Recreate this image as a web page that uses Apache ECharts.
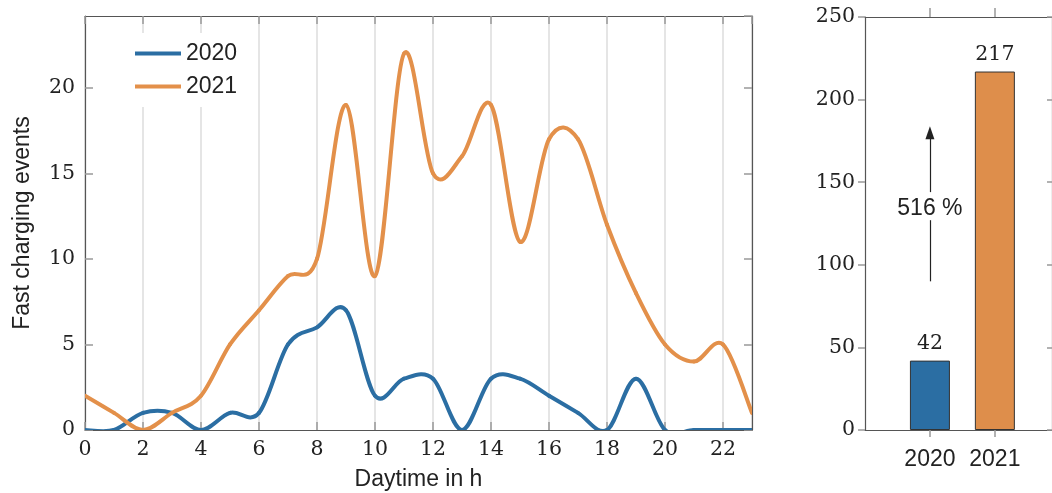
<!DOCTYPE html>
<html>
<head>
<meta charset="utf-8">
<script src="https://cdn.jsdelivr.net/npm/echarts@6/dist/echarts.min.js"></script>
<style>
  html, body { margin: 0; padding: 0; background: #fff; }
  #chart { width: 1052px; height: 493px; }
</style>
</head>
<body>
<div id="chart"></div>
<script>
// ========================================
// DATA
// ========================================
var hours = [0, 1, 2, 3, 4, 5, 6, 7, 8, 9, 10, 11, 12, 13, 14, 15, 16, 17, 18, 19, 20, 21, 22, 23];
var events2020 = [0, 0, 1, 1, 0, 1, 1, 5, 6, 7, 2, 3, 3, 0, 3, 3, 2, 1, 0, 3, 0, 0, 0, 0];
var events2021 = [2, 1, 0, 1, 2, 5, 7, 9, 10, 19, 9, 22, 15, 16, 19, 11, 17, 17, 12, 8, 5, 4, 5, 1];
var years = ['2020', '2021'];
var totals = [42, 217];
var growthText = '516 %';
var arrowFrom = 90, arrowGapLow = 127, arrowGapHigh = 144, arrowTo = 180, arrowTextAt = 134;

// ========================================
// STYLE
// ========================================
var BLUE = '#2b6ea3';
var ORANGE = '#e3904a';
var AXIS = '#555';
var TICK = '#999';
var SERIF = 'DejaVu Serif';
var SANS = 'Liberation Sans';

function pairs(xs, ys) {
  return xs.map(function (x, i) { return [x, ys[i]]; });
}

/**
 * Draw one smooth (Catmull-Rom) segment from point i to i+1.
 * Every point goes through api.coord, so the axes do the scaling.
 */
function splineSegment(ys, color) {
  return function (params, api) {
    var i = params.dataIndex;
    if (i >= ys.length - 1) return null;
    var p = function (k) {
      k = Math.max(0, Math.min(ys.length - 1, k));
      return api.coord([hours[k], ys[k]]);
    };
    var p0 = p(i - 1), p1 = p(i), p2 = p(i + 1), p3 = p(i + 2);
    return {
      type: 'bezierCurve',
      shape: {
        x1: p1[0], y1: p1[1],
        cpx1: p1[0] + (p2[0] - p0[0]) / 6, cpy1: p1[1] + (p2[1] - p0[1]) / 6,
        cpx2: p2[0] - (p3[0] - p1[0]) / 6, cpy2: p2[1] - (p3[1] - p1[1]) / 6,
        x2: p2[0], y2: p2[1]
      },
      style: { stroke: color, lineWidth: 4, fill: null, lineCap: 'round' }
    };
  };
}

var chart = echarts.init(document.getElementById('chart'), null, { renderer: 'canvas' });

var serifLabel = { fontFamily: SERIF, fontSize: 20.5, color: '#222' };
var axisLine = { show: true, onZero: false, lineStyle: { color: AXIS, width: 1.2 } };
var tickStyle = { color: TICK, width: 1.5 };

chart.setOption({
  animation: false,
  grid: [
    { left: 85, right: 300, top: 16, bottom: 63, outerBoundsMode: 'none', containLabel: false },
    { left: 865, right: 0, top: 17, bottom: 63, outerBoundsMode: 'none', containLabel: false }
  ],
  legend: {
    orient: 'vertical',
    left: 127, top: 33,
    padding: [9, 8],
    itemGap: 10,
    icon: 'rect',
    itemWidth: 46, itemHeight: 4,
    itemTextGap: 7,
    backgroundColor: '#fff',
    data: ['2020', '2021'],
    textStyle: { fontFamily: SANS, fontSize: 23, color: '#222', lineHeight: 23 }
  },
  xAxis: [
    {
      gridIndex: 0, type: 'value', min: 0, max: 23, interval: 2,
      name: 'Daytime in h', nameLocation: 'middle', nameGap: 38,
      nameTextStyle: { fontFamily: SANS, fontSize: 23, color: '#222' },
      axisLine: axisLine,
      axisTick: { inside: true, length: 8, lineStyle: tickStyle },
      axisLabel: Object.assign({ margin: 9, showMaxLabel: false }, serifLabel),
      splitLine: { show: true, lineStyle: { color: '#dcdcdc', width: 1.5 } }
    },
    {
      gridIndex: 0, type: 'value', position: 'top', min: 0, max: 23, interval: 2,
      axisLine: axisLine,
      axisTick: { inside: true, length: 8, lineStyle: tickStyle },
      axisLabel: { show: false },
      splitLine: { show: false }
    },
    {
      gridIndex: 1, type: 'value', min: -1, max: 1.88,
      axisLine: axisLine,
      axisTick: { customValues: [0, 1], length: 7, lineStyle: tickStyle },
      axisLabel: {
        customValues: [0, 1], margin: 18,
        fontFamily: SANS, fontSize: 23, color: '#222',
        formatter: function (v) { return years[Math.round(v)] || ''; }
      },
      splitLine: { show: false }
    },
    {
      gridIndex: 1, type: 'value', position: 'top', min: -1, max: 1.88,
      axisLine: axisLine,
      axisTick: { customValues: [0, 1], length: 9, lineStyle: tickStyle },
      axisLabel: { show: false },
      splitLine: { show: false }
    }
  ],
  yAxis: [
    {
      gridIndex: 0, type: 'value', min: 0, max: 24.2, interval: 5,
      name: 'Fast charging events', nameLocation: 'middle', nameGap: 51,
      nameTextStyle: { fontFamily: SANS, fontSize: 23, color: '#222' },
      axisLine: axisLine,
      axisTick: { show: true, inside: true, length: 8, lineStyle: tickStyle },
      axisLabel: Object.assign({ margin: 10, showMaxLabel: false }, serifLabel),
      splitLine: { show: false }
    },
    {
      gridIndex: 0, type: 'value', position: 'right', min: 0, max: 24.2, interval: 5,
      axisLine: axisLine,
      axisTick: { show: true, inside: true, length: 8, lineStyle: tickStyle },
      axisLabel: { show: false },
      splitLine: { show: false }
    },
    {
      gridIndex: 1, type: 'value', min: 0, max: 250, interval: 50,
      axisLine: axisLine,
      axisTick: { show: true, length: 7, lineStyle: tickStyle },
      axisLabel: Object.assign({ margin: 10 }, serifLabel),
      splitLine: { show: false }
    },
    {
      gridIndex: 1, type: 'value', position: 'right', min: 0, max: 250, interval: 50,
      axisLine: axisLine,
      axisTick: { show: true, inside: true, length: 5, lineStyle: tickStyle },
      axisLabel: { show: false },
      splitLine: { show: false }
    }
  ],
  series: [
    {
      name: '2020', type: 'custom', xAxisIndex: 0, yAxisIndex: 0,
      data: pairs(hours, events2020),
      renderItem: splineSegment(events2020, BLUE),
      clip: true,
      itemStyle: { color: BLUE }
    },
    {
      name: '2021', type: 'custom', xAxisIndex: 0, yAxisIndex: 0,
      data: pairs(hours, events2021),
      renderItem: splineSegment(events2021, ORANGE),
      clip: true,
      itemStyle: { color: ORANGE }
    },
    {
      type: 'bar', xAxisIndex: 2, yAxisIndex: 2,
      barWidth: 40,
      data: totals.map(function (v, i) {
        return { value: [i, v], itemStyle: { color: i === 0 ? BLUE : '#de8e4b' } };
      }),
      itemStyle: { borderColor: '#333', borderWidth: 1 },
      label: {
        show: true, position: 'top', distance: 6,
        fontFamily: SERIF, fontSize: 20.5, color: '#222',
        formatter: function (p) { return p.value[1]; }
      },
      markLine: {
        silent: true,
        animation: false,
        symbol: ['none', 'none'],
        lineStyle: { color: '#222', width: 1.2, type: 'solid' },
        label: { show: false },
        data: [
          [{ coord: [0, arrowFrom] }, { coord: [0, arrowGapLow] }],
          [{ coord: [0, arrowGapHigh], symbol: 'none' }, { coord: [0, arrowTo], symbol: 'triangle', symbolSize: [9, 13] }]
        ]
      },
      markPoint: {
        silent: true,
        symbol: 'circle', symbolSize: 0,
        label: {
          show: true, position: 'inside',
          fontFamily: SANS, fontSize: 23, color: '#222',
          formatter: growthText
        },
        data: [{ coord: [0, arrowTextAt] }]
      }
    }
  ]
});
</script>
</body>
</html>
